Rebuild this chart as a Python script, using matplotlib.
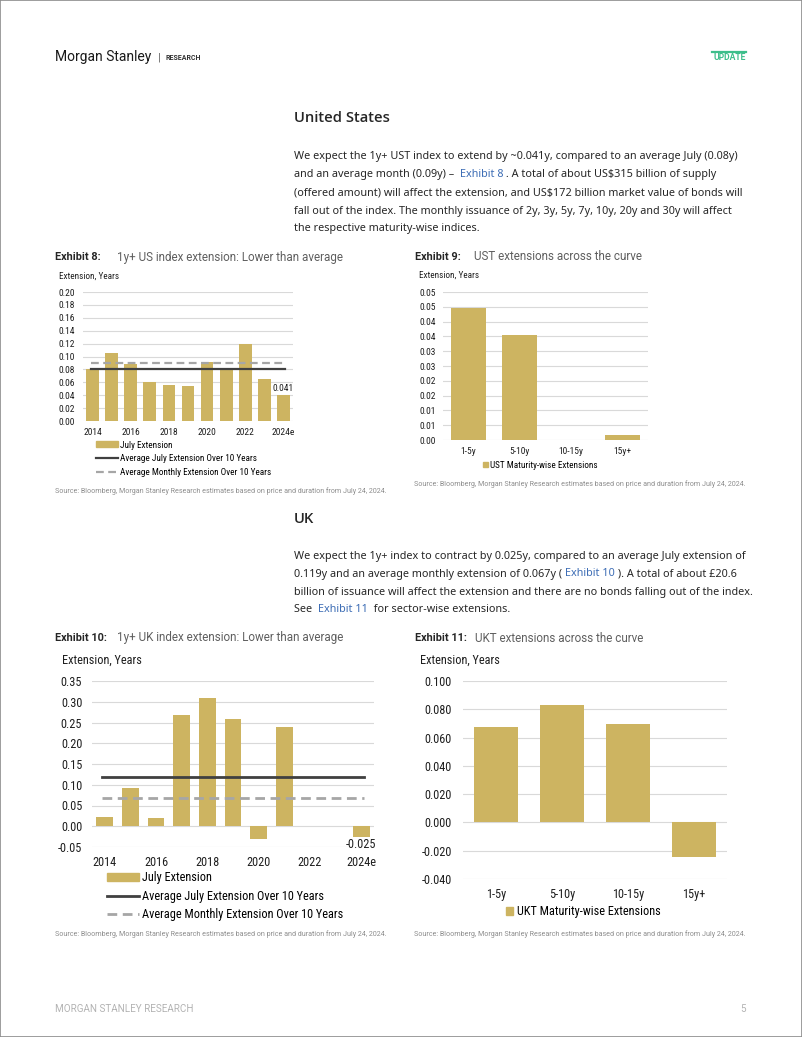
import matplotlib
matplotlib.use("Agg")
import matplotlib.pyplot as plt
from matplotlib import font_manager
from matplotlib.patches import Rectangle, Patch
from matplotlib.lines import Line2D

# ---------------- data ----------------
us_years = ["2014", "2015", "2016", "2017", "2018", "2019", "2020", "2021", "2022", "2023", "2024e"]
us_july = [0.080, 0.105, 0.088, 0.060, 0.056, 0.054, 0.091, 0.080, 0.119, 0.065, 0.041]
us_avg_july = 0.080
us_avg_month = 0.090
us_yticks = [0.00, 0.02, 0.04, 0.06, 0.08, 0.10, 0.12, 0.14, 0.16, 0.18, 0.20]

ust_buckets = ["1-5y", "5-10y", "10-15y", "15y+"]
ust_ext = [0.0446, 0.0356, 0.0, 0.0016]
ust_yticks = [0.000, 0.005, 0.010, 0.015, 0.020, 0.025, 0.030, 0.035, 0.040, 0.045, 0.050]
ust_yticklabels = ["0.00", "0.01", "0.01", "0.02", "0.02", "0.03", "0.03", "0.04", "0.04", "0.05", "0.05"]

uk_years = ["2014", "2015", "2016", "2017", "2018", "2019", "2020", "2021", "2022", "2023", "2024e"]
uk_july = [0.023, 0.093, 0.019, 0.269, 0.309, 0.259, -0.030, 0.239, 0.0, 0.0, -0.025]
uk_avg_july = 0.119
uk_avg_month = 0.067
uk_yticks = [-0.05, 0.00, 0.05, 0.10, 0.15, 0.20, 0.25, 0.30, 0.35]

ukt_buckets = ["1-5y", "5-10y", "10-15y", "15y+"]
ukt_ext = [0.0676, 0.0827, 0.0695, -0.0247]
ukt_yticks = [-0.040, -0.020, 0.000, 0.020, 0.040, 0.060, 0.080, 0.100]

# ---------------- style ----------------
W, H = 802, 1037
names = {f.name for f in font_manager.fontManager.ttflist}
CF = "Roboto Condensed" if "Roboto Condensed" in names else "Roboto"
BF = "Noto Sans" if "Noto Sans" in names else "DejaVu Sans"
HF = "Open Sans" if "Open Sans" in names else BF
GOLD = "#CDB461"
DARK = "#404040"
DASH = "#A6A6A6"
GRID = "#D9D9D9"
TXT = "#262626"
CTXT = "#1F1F1F"
LINK = "#3D6DB5"
SMALL = 6.8
BIG = 8.8

fig = plt.figure(figsize=(W / 100, H / 100), dpi=100)
fig.patch.set_facecolor("white")


def fx(x):
    return x / W


def fy(y):
    return 1 - y / H


def t(x, y, s, **kw):
    kw.setdefault("va", "center")
    return fig.text(fx(x), fy(y), s, **kw)


def add_ax(x0, y0, x1, y1):
    ax = fig.add_axes([fx(x0), fy(y1), (x1 - x0) / W, (y1 - y0) / H])
    for sp in ax.spines.values():
        sp.set_visible(False)
    ax.tick_params(length=0)
    ax.set_axisbelow(True)
    ax.yaxis.grid(True, color=GRID, lw=0.8)
    return ax


renderer = fig.canvas.get_renderer()


def rich(x, y, segs, size, family):
    cx = x
    for s, c in segs:
        tx = t(cx, y, s, fontsize=size, family=family, color=c, va="center")
        bb = tx.get_window_extent(renderer=renderer)
        cx += bb.width


# page border
fig.add_artist(Rectangle((0, 0), 1, 1, transform=fig.transFigure, fill=False,
                         edgecolor="#8C8C8C", lw=1.2))

# header
t(55, 57, "Morgan Stanley", fontsize=10, family="Roboto", color="#1A1A1A")
t(158, 57, "|", fontsize=8, family="Roboto", color="#555555")
t(165, 57.5, "RESEARCH", fontsize=5.0, family="Roboto", weight="bold", color="#333333")
fig.add_artist(Line2D([fx(712), fx(746)], [fy(51.5), fy(51.5)], transform=fig.transFigure,
                      color="#3DBE8B", lw=1.6))
t(746, 58, "UPDATE", fontsize=6.2, family="Roboto", weight="bold", color="#3DBE8B", ha="right")

# footer
t(55, 1009, "MORGAN STANLEY RESEARCH", fontsize=7.1, family="Roboto", color="#B3B3B3")
t(746, 1009, "5", fontsize=7.1, family="Roboto", color="#B3B3B3", ha="right")

# section texts
t(294, 118, "United States", fontsize=10.6, family=HF, weight="semibold", color=TXT)
us_par = [
    [("We expect the 1y+ UST index to extend by ~0.041y, compared to an average July (0.08y)", TXT)],
    [("and an average month (0.09y) \u2013  ", TXT), ("Exhibit 8", LINK),
     (" . A total of about US$315 billion of supply", TXT)],
    [("(offered amount) will affect the extension, and US$172 billion market value of bonds will", TXT)],
    [("fall out of the index. The monthly issuance of 2y, 3y, 5y, 7y, 10y, 20y and 30y will affect", TXT)],
    [("the respective maturity-wise indices.", TXT)],
]
for i, segs in enumerate(us_par):
    rich(294, 157 + 18 * i, segs, 7.8, BF)

t(294, 519, "UK", fontsize=10.6, family=HF, weight="semibold", color=TXT)
uk_par = [
    [("We expect the 1y+ index to contract by 0.025y, compared to an average July extension of", TXT)],
    [("0.119y and an average monthly extension of 0.067y ( ", TXT), ("Exhibit 10", LINK),
     (" ). A total of about \u00a320.6", TXT)],
    [("billion of issuance will affect the extension and there are no bonds falling out of the index.", TXT)],
    [("See  ", TXT), ("Exhibit 11", LINK), ("  for sector-wise extensions.", TXT)],
]
for i, segs in enumerate(uk_par):
    rich(294, 556 + 18 * i, segs, 7.8, BF)


def title(x, y, num, rest, gap):
    t(x, y, num, fontsize=7.8, family="Roboto", weight="bold", color=TXT)
    t(x + gap, y, rest, fontsize=8.35, family="Roboto", color="#5E5E5E")


title(55, 257, "Exhibit 8:", "1y+ US index extension: Lower than average", 62)
title(415, 257, "Exhibit 9:", "UST extensions across the curve", 59)
title(55, 638, "Exhibit 10:", "1y+ UK index extension: Lower than average", 62)
title(415, 638, "Exhibit 11:", "UKT extensions across the curve", 60)

SRC = "Source: Bloomberg, Morgan Stanley Research estimates based on price and duration from July 24, 2024."
for (x, y) in [(55, 491), (414, 484), (55, 934), (414, 934)]:
    t(x, y, SRC, fontsize=5.15, family="Roboto", color="#8C8C8C")

# ---------------- Exhibit 8 ----------------
ax = add_ax(83, 292, 293, 421)
xs = list(range(len(us_years)))
ax.bar(xs, us_july, width=0.67, color=GOLD, zorder=2)
ax.plot([-0.1, 10.1], [us_avg_month] * 2, color=DASH, lw=1.6, ls=(0, (3.5, 2)), zorder=3)
ax.plot([-0.1, 10.1], [us_avg_july] * 2, color=DARK, lw=1.6, zorder=3)
ax.set_xlim(-0.5, 10.5)
ax.set_ylim(0, 0.2)
ax.set_yticks(us_yticks)
ax.set_yticklabels([f"{v:.2f}" for v in us_yticks], family=CF, fontsize=SMALL, color=CTXT)
ax.set_xticks(xs[::2])
ax.set_xticklabels(us_years[::2], family=CF, fontsize=SMALL, color=CTXT)
ax.tick_params(axis="x", pad=5)
ax.tick_params(axis="y", pad=5.5)
ax.annotate(f"{us_july[-1]:.3f}", (xs[-1], us_july[-1]), xytext=(0, 1), textcoords="offset points",
            ha="center", va="bottom", family=CF, fontsize=SMALL, color=CTXT)
t(59, 276, "Extension, Years", fontsize=6.6, family=CF, color=CTXT)
h = [Patch(color=GOLD), Line2D([], [], color=DARK, lw=1.6),
     Line2D([], [], color=DASH, lw=1.6, ls=(0, (3.5, 2)))]
fig.legend(h, ["July Extension", "Average July Extension Over 10 Years",
               "Average Monthly Extension Over 10 Years"],
           loc="upper left", bbox_to_anchor=(fx(96), fy(440.5)), frameon=False,
           prop={"family": CF, "size": 6.6}, handlelength=2.4, handleheight=0.6,
           handletextpad=0.25, labelspacing=0.5, borderpad=0, borderaxespad=0)

# ---------------- Exhibit 9 ----------------
ax = add_ax(443, 292, 648, 440)
xs = list(range(len(ust_buckets)))
ax.bar(xs, ust_ext, width=0.68, color=GOLD, zorder=2)
ax.set_xlim(-0.5, 3.5)
ax.set_ylim(0, 0.05)
ax.set_yticks(ust_yticks)
ax.set_yticklabels(ust_yticklabels, family=CF, fontsize=SMALL, color=CTXT)
ax.set_xticks(xs)
ax.set_xticklabels(ust_buckets, family=CF, fontsize=SMALL, color=CTXT)
ax.tick_params(axis="x", pad=5)
ax.tick_params(axis="y", pad=5)
t(419, 275, "Extension, Years", fontsize=6.6, family=CF, color=CTXT)
fig.legend([Patch(color=GOLD)], ["UST Maturity-wise Extensions"], loc="center left",
           bbox_to_anchor=(fx(483), fy(465)), frameon=False,
           prop={"family": CF, "size": 6.6}, handlelength=0.5, handleheight=0.5,
           handletextpad=0.25, borderpad=0, borderaxespad=0)

# ---------------- Exhibit 10 ----------------
ax = add_ax(92, 681, 374, 847)
xs = list(range(len(uk_years)))
ax.bar(xs, uk_july, width=0.65, color=GOLD, zorder=2)
ax.plot([-0.1, 10.1], [uk_avg_month] * 2, color=DASH, lw=2.0, ls=(0, (3.5, 2)), zorder=3)
ax.plot([-0.1, 10.1], [uk_avg_july] * 2, color=DARK, lw=2.0, zorder=3)
ax.set_xlim(-0.5, 10.5)
ax.set_ylim(-0.05, 0.35)
ax.set_yticks(uk_yticks)
ax.set_yticklabels([f"{v:.2f}" for v in uk_yticks], family=CF, fontsize=BIG, color=CTXT)
ax.set_xticks(xs[::2])
ax.set_xticklabels(uk_years[::2], family=CF, fontsize=BIG, color=CTXT)
ax.tick_params(axis="x", pad=6.5)
ax.tick_params(axis="y", pad=7)
ax.annotate(f"{uk_july[-1]:.3f}", (xs[-1], uk_july[-1]), xytext=(0, -1), textcoords="offset points",
            ha="center", va="top", family=CF, fontsize=BIG, color=CTXT)
t(62, 660, "Extension, Years", fontsize=BIG, family=CF, color=CTXT)
h = [Patch(color=GOLD), Line2D([], [], color=DARK, lw=2.0),
     Line2D([], [], color=DASH, lw=2.0, ls=(0, (3.5, 2)))]
fig.legend(h, ["July Extension", "Average July Extension Over 10 Years",
               "Average Monthly Extension Over 10 Years"],
           loc="upper left", bbox_to_anchor=(fx(107), fy(871.5)), frameon=False,
           prop={"family": CF, "size": BIG}, handlelength=2.6, handleheight=0.6,
           handletextpad=0.3, labelspacing=0.42, borderpad=0, borderaxespad=0)

# ---------------- Exhibit 11 ----------------
ax = add_ax(463, 681, 727, 879)
xs = list(range(len(ukt_buckets)))
ax.bar(xs, ukt_ext, width=0.67, color=GOLD, zorder=2)
ax.set_xlim(-0.5, 3.5)
ax.set_ylim(-0.04, 0.10)
ax.set_yticks(ukt_yticks)
ax.set_yticklabels([f"{v:.3f}" for v in ukt_yticks], family=CF, fontsize=BIG, color=CTXT)
ax.set_xticks(xs)
ax.set_xticklabels(ukt_buckets, family=CF, fontsize=BIG, color=CTXT)
ax.tick_params(axis="x", pad=6.5)
ax.tick_params(axis="y", pad=8)
t(420, 660, "Extension, Years", fontsize=BIG, family=CF, color=CTXT)
fig.legend([Patch(color=GOLD)], ["UKT Maturity-wise Extensions"], loc="center left",
           bbox_to_anchor=(fx(506), fy(912)), frameon=False,
           prop={"family": CF, "size": BIG}, handlelength=0.6, handleheight=0.6,
           handletextpad=0.3, borderpad=0, borderaxespad=0)

fig.savefig("out.png", dpi=100, facecolor="white")
